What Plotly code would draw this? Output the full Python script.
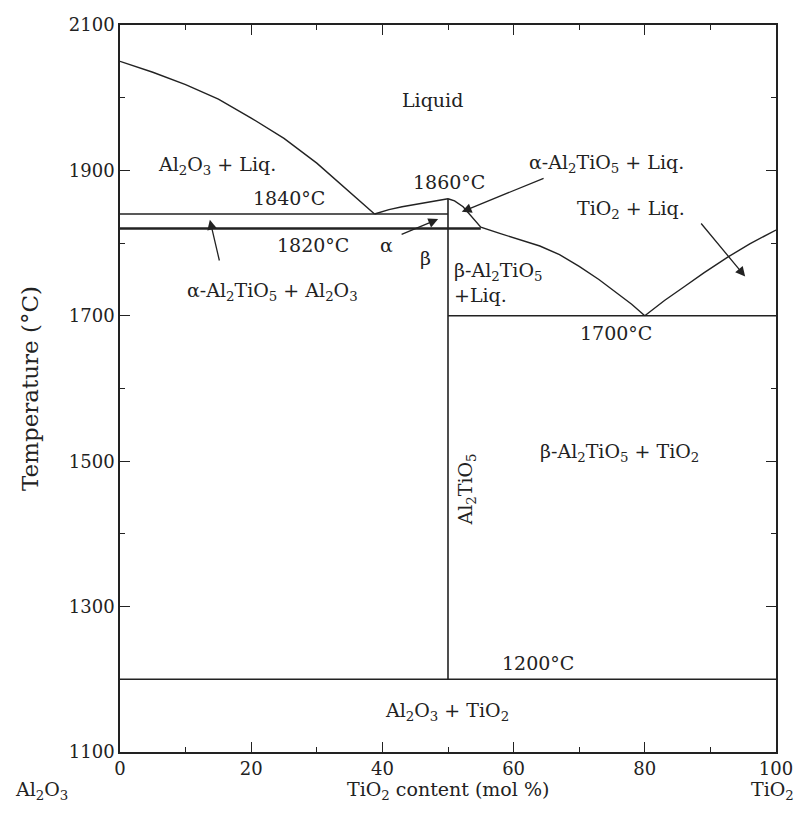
import plotly.graph_objects as go

# ---- data ----
liq_al2o3_x = [0, 5, 10, 15, 20, 25, 30, 35, 38.8]
liq_al2o3_t = [2050, 2035, 2018, 1998, 1972, 1944, 1910, 1870, 1840]

liq_at_left_x = [38.8, 41, 43, 45, 47, 48.5, 50]
liq_at_left_t = [1840, 1846, 1850, 1853, 1856, 1859, 1861]

liq_at_right_x = [50, 51, 52.3, 53.5, 55, 58, 61, 64, 67, 70, 73, 76, 78, 80]
liq_at_right_t = [1861, 1858, 1850, 1838, 1822, 1813, 1805, 1796, 1784, 1768, 1750, 1730, 1716, 1700]

liq_tio2_x = [80, 83, 86, 89, 92.7, 96, 100]
liq_tio2_t = [1700, 1721, 1740, 1759, 1781, 1799, 1818]

iso_1840_x = [0, 50]
iso_1840_t = [1840, 1840]
iso_1820_x = [0, 55.0]
iso_1820_t = [1820, 1820]
iso_1700_x = [50, 100]
iso_1700_t = [1700, 1700]
iso_1200_x = [0, 100]
iso_1200_t = [1200, 1200]
comp_line_x = [50, 50]
comp_line_t = [1200, 1861]

x_ticks = [0, 20, 40, 60, 80, 100]
y_ticks = [1100, 1300, 1500, 1700, 1900, 2100]

# labels: (text, x, T)
labels = [
    ("Liquid", 47.7, 1997),
    ("Al<sub>2</sub>O<sub>3</sub> + Liq.", 14.8, 1907),
    ("1840°C", 25.7, 1862),
    ("1860°C", 50.2, 1884),
    ("α-Al<sub>2</sub>TiO<sub>5</sub> + Liq.", 74.2, 1910),
    ("TiO<sub>2</sub> + Liq.", 77.9, 1846),
    ("1820°C", 29.4, 1798),
    ("α", 40.7, 1797),
    ("β", 46.5, 1780),
    ("α-Al<sub>2</sub>TiO<sub>5</sub> + Al<sub>2</sub>O<sub>3</sub>", 23.2, 1733),
    ("1700°C", 75.6, 1677),
    ("β-Al<sub>2</sub>TiO<sub>5</sub> + TiO<sub>2</sub>", 76.2, 1512),
    ("1200°C", 63.7, 1223),
    ("Al<sub>2</sub>O<sub>3</sub> + TiO<sub>2</sub>", 49.8, 1156),
]
left_labels = [
    ("β-Al<sub>2</sub>TiO<sub>5</sub>", 50.6, 1761),
    ("+Liq.", 50.6, 1729),
]
# arrows: (tail x, tail T, head x, head T)
arrows = [
    (15.2, 1774, 13.7, 1832),
    (42.7, 1811, 48.5, 1833),
    (64.8, 1890, 52.1, 1843),
    (88.4, 1829, 95.3, 1754),
]

FONT = "DejaVu Serif"
LC = "#222222"
FS = 19

fig = go.Figure()

def add_line(xs, ts, w=1.4):
    fig.add_trace(go.Scatter(x=xs, y=ts, mode="lines",
                             line=dict(color=LC, width=w),
                             hoverinfo="skip", showlegend=False))

add_line(liq_al2o3_x, liq_al2o3_t)
add_line(liq_at_left_x, liq_at_left_t)
add_line(liq_at_right_x, liq_at_right_t)
add_line(liq_tio2_x, liq_tio2_t)
add_line(iso_1840_x, iso_1840_t, 1.4)
add_line(iso_1820_x, iso_1820_t, 2.6)
add_line(iso_1700_x, iso_1700_t, 1.4)
add_line(iso_1200_x, iso_1200_t, 1.4)
add_line(comp_line_x, comp_line_t, 1.6)

annotations = []
for txt, x, t in labels:
    annotations.append(dict(text=txt, x=x, y=t, xref="x", yref="y", showarrow=False,
                            xanchor="center", yanchor="middle",
                            font=dict(family=FONT, size=FS, color=LC)))
for txt, x, t in left_labels:
    annotations.append(dict(text=txt, x=x, y=t, xref="x", yref="y", showarrow=False,
                            xanchor="left", yanchor="middle",
                            font=dict(family=FONT, size=FS, color=LC)))
annotations.append(dict(text="Al<sub>2</sub>TiO<sub>5</sub>", x=52.9, y=1461, xref="x", yref="y",
                        showarrow=False, textangle=-90, xanchor="center", yanchor="middle",
                        font=dict(family=FONT, size=FS, color=LC)))
for tx, tt, hx, ht in arrows:
    annotations.append(dict(x=hx, y=ht, ax=tx, ay=tt, xref="x", yref="y", axref="x", ayref="y",
                            text="", showarrow=True, arrowhead=2, arrowsize=1.5, arrowwidth=1.3,
                            arrowcolor=LC))
for txt, px in [("Al<sub>2</sub>O<sub>3</sub>", -0.119),
                ("TiO<sub>2</sub> content (mol %)", 0.5),
                ("TiO<sub>2</sub>", 0.995)]:
    annotations.append(dict(text=txt, x=px, y=-0.053, xref="paper", yref="paper",
                            xanchor="center", yanchor="middle", showarrow=False,
                            font=dict(family=FONT, size=FS, color=LC)))

axis_common = dict(showline=True, linecolor=LC, linewidth=1.6, mirror="allticks",
                   ticks="inside", ticklen=10, tickwidth=1.3, tickcolor=LC,
                   showgrid=False, zeroline=False, automargin=False,
                   tickfont=dict(family=FONT, size=18, color=LC))

fig.update_layout(
    width=805, height=823,
    margin=dict(l=112, r=37, t=17, b=79),
    plot_bgcolor="white", paper_bgcolor="white",
    xaxis=dict(range=[0, 100], tickvals=x_ticks,
               minor=dict(dtick=10, tick0=0, ticks="inside", ticklen=5, tickwidth=1.2, tickcolor=LC),
               **axis_common),
    yaxis=dict(range=[1100, 2100], tickvals=y_ticks,
               minor=dict(dtick=100, tick0=1100, ticks="inside", ticklen=5, tickwidth=1.2, tickcolor=LC),
               title=dict(text="Temperature (°C)", standoff=24,
                          font=dict(family=FONT, size=23, color=LC)),
               **axis_common),
    annotations=annotations,
)

fig.write_html("out.html")
